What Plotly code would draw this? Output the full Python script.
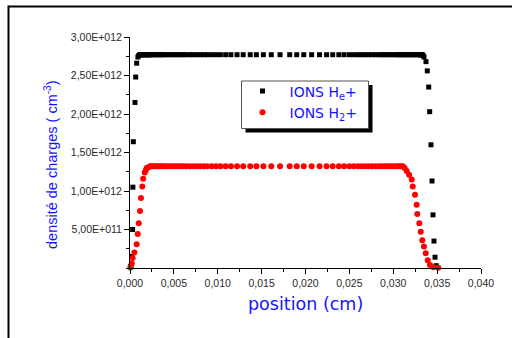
import plotly.graph_objects as go

# ---------------- data ----------------
# He+ ions : position (cm) and density (units of 1e12 cm^-3)
pos_he = [
    0.00005, 0.00019, 0.00030, 0.00033, 0.00038, 0.00057, 0.00065, 0.00076,
    0.0009, 0.0010, 0.0011, 0.0012, 0.0013, 0.0014, 0.0015, 0.0016, 0.0017, 0.0018,
    0.0019, 0.0020, 0.0021, 0.0022, 0.0023, 0.0024, 0.0026, 0.0028, 0.0030, 0.0032,
    0.0034, 0.0036, 0.0038, 0.0040, 0.0043, 0.0046, 0.0049, 0.0052, 0.0055, 0.0058,
    0.0061, 0.0064, 0.0068, 0.0072, 0.0076, 0.0080, 0.0084, 0.0088, 0.0093, 0.0098,
    0.0103, 0.0109, 0.0115, 0.0122, 0.0129, 0.0137, 0.0144, 0.0152, 0.0161, 0.0171,
    0.0182, 0.0190, 0.0198, 0.0207, 0.0216, 0.0224, 0.0231, 0.0238, 0.0244, 0.0250,
    0.0255, 0.0260, 0.0264, 0.0268, 0.0272, 0.0276, 0.0280, 0.0284, 0.0287, 0.0290,
    0.0293, 0.0296, 0.0299, 0.0302, 0.0305, 0.0307, 0.0309, 0.0311, 0.0313, 0.0315,
    0.0317, 0.0319, 0.0321, 0.0323, 0.0325, 0.0327, 0.0329, 0.0330, 0.0331, 0.0332,
    0.0333, 0.0334, 0.0335,
    0.03373, 0.03388, 0.03404, 0.03415, 0.03430, 0.03442, 0.03453, 0.03464, 0.03476, 0.03490,
]
dens_he = [
    0.02, 0.15, 0.50, 1.05, 1.64, 2.15, 2.48, 2.66,
    2.74, 2.76, 2.77, 2.77, 2.77, 2.77, 2.77, 2.77, 2.77, 2.77,
    2.77, 2.77, 2.77, 2.77, 2.77, 2.77, 2.77, 2.77, 2.77, 2.77,
    2.77, 2.77, 2.77, 2.77, 2.77, 2.77, 2.77, 2.77, 2.77, 2.77,
    2.77, 2.77, 2.77, 2.77, 2.77, 2.77, 2.77, 2.77, 2.77, 2.77,
    2.77, 2.77, 2.77, 2.77, 2.77, 2.77, 2.77, 2.77, 2.77, 2.77,
    2.77, 2.77, 2.77, 2.77, 2.77, 2.77, 2.77, 2.77, 2.77, 2.77,
    2.77, 2.77, 2.77, 2.77, 2.77, 2.77, 2.77, 2.77, 2.77, 2.77,
    2.77, 2.77, 2.77, 2.77, 2.77, 2.77, 2.77, 2.77, 2.77, 2.77,
    2.77, 2.77, 2.77, 2.77, 2.77, 2.77, 2.77, 2.77, 2.77, 2.77,
    2.77, 2.76, 2.74,
    2.68, 2.56, 2.35, 2.03, 1.60, 1.13, 0.69, 0.35, 0.14, 0.03,
]

# H2+ ions : position (cm) and density (units of 1e12 cm^-3)
pos_h2 = [
    0.00005, 0.0001, 0.0002, 0.0003, 0.0005, 0.00076, 0.00088, 0.0010,
    0.00114, 0.00125, 0.0014, 0.0015, 0.00168, 0.0018, 0.0019, 0.0021,
    0.0023, 0.0024, 0.0026, 0.0028, 0.0030, 0.0032, 0.0034, 0.0036, 0.0038, 0.0040,
    0.0043, 0.0046, 0.0049, 0.0052, 0.0055, 0.0058, 0.0061, 0.0064, 0.0068, 0.0072,
    0.0076, 0.0080, 0.0084, 0.0088, 0.0093, 0.0098, 0.0103, 0.0109, 0.0115, 0.0122,
    0.0129, 0.0137, 0.0144, 0.0152, 0.0161, 0.0171, 0.0182, 0.0190, 0.0198, 0.0207,
    0.0216, 0.0224, 0.0231, 0.0238, 0.0244, 0.0250, 0.0255, 0.0260, 0.0264, 0.0268,
    0.0272, 0.0276, 0.0280, 0.0284, 0.0287, 0.0290, 0.0293, 0.0296, 0.0299, 0.0302,
    0.0305, 0.0307, 0.0309, 0.0311,
    0.0313, 0.03153, 0.0318, 0.0321, 0.03222, 0.03248, 0.03267, 0.03274, 0.03297,
    0.03313, 0.03331, 0.0335, 0.0337, 0.03393, 0.03419, 0.03456, 0.03513,
]
dens_h2 = [
    0.005, 0.02, 0.06, 0.13, 0.20, 0.31, 0.44, 0.58,
    0.74, 0.91, 1.06, 1.16, 1.24, 1.27, 1.30, 1.31,
    1.32, 1.32, 1.32, 1.32, 1.32, 1.32, 1.32, 1.32, 1.32, 1.32,
    1.32, 1.32, 1.32, 1.32, 1.32, 1.32, 1.32, 1.32, 1.32, 1.32,
    1.32, 1.32, 1.32, 1.32, 1.32, 1.32, 1.32, 1.32, 1.32, 1.32,
    1.32, 1.32, 1.32, 1.32, 1.32, 1.32, 1.32, 1.32, 1.32, 1.32,
    1.32, 1.32, 1.32, 1.32, 1.32, 1.32, 1.32, 1.32, 1.32, 1.32,
    1.32, 1.32, 1.32, 1.32, 1.32, 1.32, 1.32, 1.32, 1.32, 1.32,
    1.32, 1.32, 1.32, 1.32,
    1.30, 1.26, 1.21, 1.15, 1.06, 0.95, 0.82, 0.70, 0.58,
    0.47, 0.36, 0.28, 0.19, 0.10, 0.04, 0.01, 0.004,
]
assert len(pos_he) == len(dens_he), (len(pos_he), len(dens_he))
assert len(pos_h2) == len(dens_h2), (len(pos_h2), len(dens_h2))

DENS_UNIT = 1e12

x_tick_vals = [0.000, 0.005, 0.010, 0.015, 0.020, 0.025, 0.030, 0.035, 0.040]
x_tick_text = ["0,000", "0,005", "0,010", "0,015", "0,020", "0,025", "0,030", "0,035", "0,040"]
y_tick_vals = [0.5e12, 1.0e12, 1.5e12, 2.0e12, 2.5e12, 3.0e12]
y_tick_text = ["5,00E+011", "1,00E+012", "1,50E+012", "2,00E+012", "2,50E+012", "3,00E+012"]

# ---------------- figure ----------------
W, H = 512, 338
ML, MR, MT, MB = 130, 31, 37, 70
PW, PH = W - ML - MR, H - MT - MB


def px(xp):
    return (xp - ML) / PW


def py(yp):
    return (H - MB - yp) / PH


BLUE = "#1414FF"
TICKC = "#2a2a2a"
FONT = "Arial, Liberation Sans, sans-serif"
WIDE = "DejaVu Sans, Arial, sans-serif"

fig = go.Figure()
fig.add_trace(go.Scatter(
    x=pos_he, y=[v * DENS_UNIT for v in dens_he], mode="markers",
    name="IONS H<sub>e</sub>+",
    marker=dict(symbol="square", size=5, color="black", line=dict(width=0)),
    cliponaxis=False,
))
fig.add_trace(go.Scatter(
    x=pos_h2, y=[v * DENS_UNIT for v in dens_h2], mode="markers",
    name="IONS H<sub>2</sub>+",
    marker=dict(symbol="circle", size=6, color="#FF0000", line=dict(width=0)),
    cliponaxis=False,
))

axis_common = dict(
    showline=True, linecolor="black", linewidth=1, mirror=False,
    ticks="outside", ticklen=5, tickwidth=1, tickcolor="black",
    showgrid=False, zeroline=False, automargin=False,
    tickfont=dict(family=FONT, size=10.5, color=TICKC),
)

fig.update_xaxes(
    range=[0, 0.04], tickmode="array", tickvals=x_tick_vals, ticktext=x_tick_text,
    minor=dict(tick0=0, dtick=0.0025, ticks="outside", ticklen=3, tickcolor="black", showgrid=False),
    **axis_common,
)
fig.update_yaxes(
    range=[0, 3e12], tickmode="array", tickvals=y_tick_vals, ticktext=y_tick_text,
    minor=dict(tick0=0, dtick=2.5e11, ticks="outside", ticklen=3, tickcolor="black", showgrid=False),
    **axis_common,
)

shapes = [
    # outer frame (top and left edges)
    dict(type="line", xref="paper", yref="paper", x0=px(8.5), x1=px(515), y0=py(6.5), y1=py(6.5),
         line=dict(color="black", width=2)),
    dict(type="line", xref="paper", yref="paper", x0=px(8.5), x1=px(8.5), y0=py(5.5), y1=py(345),
         line=dict(color="black", width=2)),
    # legend shadow and box
    dict(type="rect", xref="paper", yref="paper", x0=px(245.5), x1=px(372.5), y0=py(85), y1=py(132.5),
         fillcolor="black", line=dict(width=0), layer="above"),
    dict(type="rect", xref="paper", yref="paper", x0=px(241.5), x1=px(368.5), y0=py(81), y1=py(128.5),
         fillcolor="white", line=dict(color="#555555", width=1), layer="above"),
]

annotations = [
    dict(text="position (cm)", xref="paper", yref="paper", x=0.5, y=py(304),
         xanchor="center", yanchor="middle", showarrow=False,
         font=dict(family=WIDE, size=17.5, color=BLUE)),
    dict(text="densité de charges ( cm<sup>-3</sup>)", xref="paper", yref="paper",
         x=px(51), y=py(165), xanchor="center", yanchor="middle", textangle=-90, showarrow=False,
         font=dict(family=FONT, size=14.5, color=BLUE)),
]

fig.update_layout(
    width=W, height=H, margin=dict(l=ML, r=MR, t=MT, b=MB, pad=0),
    paper_bgcolor="white", plot_bgcolor="white",
    showlegend=True,
    legend=dict(
        x=px(235.5), y=py(75.5), xanchor="left", yanchor="top",
        bgcolor="rgba(0,0,0,0)", borderwidth=0, itemwidth=44,
        font=dict(family=WIDE, size=14, color=BLUE),
        tracegroupgap=0,
    ),
    shapes=shapes, annotations=annotations,
)

fig.write_html(
    "out.html",
    config={"displayModeBar": False},
    post_script="document.body.style.margin='0';document.body.style.overflow='hidden';",
)
